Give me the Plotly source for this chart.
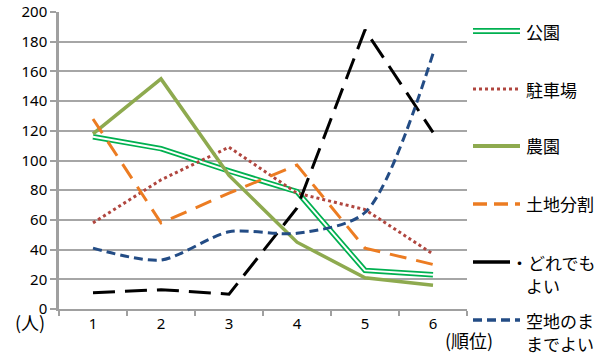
import plotly.graph_objects as go

categories = ["1", "2", "3", "4", "5", "6"]
koen = [116, 108, 93, 79, 26, 23]
chushajo = [58, 87, 109, 78, 67, 37]
noen = [118, 155, 90, 45, 21, 16]
tochi_bunkatsu = [128, 58, 78, 97, 41, 30]
doredemo = [11, 13, 10, 68, 188, 119]
akichi = [41, 33, 52, 51, 65, 172]
y_ticks = [0, 20, 40, 60, 80, 100, 120, 140, 160, 180, 200]

FONT = "Noto Sans CJK JP"
NUMFONT = "Noto Sans"
GREEN = "#00b050"
BROWN = "#b0463f"
OLIVE = "#8eaa4f"
ORANGE = "#ec7c22"
BLACK = "#000000"
BLUE = "#234c85"

fig = go.Figure()
fig.add_trace(go.Scatter(x=categories, y=koen, mode="lines", line=dict(color=GREEN, width=5.5), name="公園"))
fig.add_trace(go.Scatter(x=categories, y=koen, mode="lines", line=dict(color="white", width=2), showlegend=False))
fig.add_trace(go.Scatter(x=categories, y=chushajo, mode="lines", line=dict(color=BROWN, width=3, dash="dot"), name="駐車場"))
fig.add_trace(go.Scatter(x=categories, y=noen, mode="lines", line=dict(color=OLIVE, width=3.5), name="農園"))
fig.add_trace(go.Scatter(x=categories, y=tochi_bunkatsu, mode="lines", line=dict(color=ORANGE, width=3, dash="17px,10px"), name="土地分割"))
fig.add_trace(go.Scatter(x=categories, y=doredemo, mode="lines", line=dict(color=BLACK, width=3, dash="22px,10px"), name="どれでもよい"))
fig.add_trace(go.Scatter(x=categories, y=akichi, mode="lines", line=dict(color=BLUE, width=3, dash="9px,5px", shape="spline", smoothing=0.8), name="空地のままでよい"))

W, H = 605, 356
L, R, T, B = 59, 138, 12, 47
PW, PH = W - L - R, H - T - B


def fx(x):
    return (x - L) / PW


def fy(y):
    return (H - B - y) / PH


shapes = []
annotations = []
legend_items = [
    (31, [("公園", 31)], "green"),
    (89, [("駐車場", 89)], "brown"),
    (146, [("農園", 146)], "olive"),
    (204, [("土地分割", 204)], "orange"),
    (262, [("・どれでも", 262), ("よい", 285)], "black"),
    (320, [("空地のま", 320), ("までよい", 343)], "blue"),
]
styles = {
    "green": [dict(color=GREEN, width=6), dict(color="white", width=2.5)],
    "brown": [dict(color=BROWN, width=3, dash="dot")],
    "olive": [dict(color=OLIVE, width=4)],
    "orange": [dict(color=ORANGE, width=3.5, dash="14px,7px")],
    "black": [dict(color=BLACK, width=3.5)],
    "blue": [dict(color=BLUE, width=3.5, dash="9px,5px")],
}
for yc, texts, key in legend_items:
    x1 = 510 if key == "black" else 520
    for st in styles[key]:
        shapes.append(dict(type="line", xref="paper", yref="paper",
                           x0=fx(473), x1=fx(x1), y0=fy(yc), y1=fy(yc), line=st))
    for txt, ty in texts:
        tx = 509 if txt.startswith("・") else 524
        annotations.append(dict(text=txt, xref="paper", yref="paper",
                                x=fx(tx), y=fy(ty), xanchor="left", yanchor="middle",
                                showarrow=False,
                                font=dict(family=FONT, size=17, color="#000")))

annotations.append(dict(text="(人)", xref="paper", yref="paper",
                        x=fx(30), y=fy(322), xanchor="center", yanchor="middle",
                        showarrow=False, font=dict(family=FONT, size=18, color="#000")))
annotations.append(dict(text="(順位)", xref="paper", yref="paper",
                        x=fx(443), y=fy(340), xanchor="left", yanchor="middle",
                        showarrow=False, font=dict(family=FONT, size=18, color="#000")))

fig.update_layout(
    width=W, height=H,
    margin=dict(l=L, r=R, t=T, b=B, autoexpand=False),
    paper_bgcolor="white", plot_bgcolor="white",
    showlegend=False,
    shapes=shapes, annotations=annotations,
    font=dict(family=FONT, size=16, color="#000"),
)
fig.update_xaxes(
    type="category", range=[-0.5, 5.5], tickson="boundaries", ticks="outside", ticklen=5,
    tickcolor="#a0a0a0", tickwidth=1.5, automargin=False,
    showline=True, linecolor="#a0a0a0", linewidth=2, showgrid=False,
    tickfont=dict(family=NUMFONT, size=15), ticklabeloverflow="allow",
)
fig.update_yaxes(
    range=[0, 200.05], tickvals=y_ticks, ticks="outside", ticklen=6,
    tickcolor="#a0a0a0", tickwidth=1.5, automargin=False,
    showline=True, linecolor="#a0a0a0", linewidth=2.5,
    showgrid=True, gridcolor="#a6a6a6", gridwidth=1.5, zeroline=False,
    tickfont=dict(family=NUMFONT, size=15), ticklabeloverflow="allow",
)

fig.write_html(
    "out.html",
    config={"displayModeBar": False},
    post_script="document.body.style.margin='0';document.body.style.padding='0';",
)
